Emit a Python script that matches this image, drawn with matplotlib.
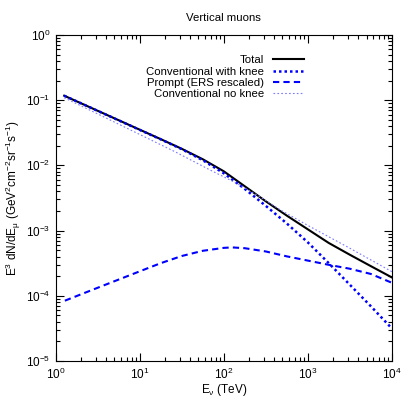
import matplotlib
matplotlib.use("Agg")
import matplotlib.pyplot as plt
import numpy as np

plt.rcParams['font.family'] = ['Liberation Sans', 'DejaVu Sans']
plt.rcParams['mathtext.default'] = 'regular'

# log10(E / TeV) and log10(E^3 dN/dE) values
total_logE = [0.102, 0.5, 1.0, 1.25, 1.5, 1.75, 2.0, 2.25, 2.5, 2.75, 3.0, 3.25, 3.5, 3.75, 4.0]
total_logY = [-0.931, -1.162, -1.452, -1.597, -1.745, -1.905, -2.09, -2.32, -2.55, -2.77, -2.98, -3.19, -3.37, -3.545, -3.718]

knee_logE = [0.102, 0.5, 1.0, 1.25, 1.5, 1.75, 2.0, 2.25, 2.5, 2.75, 3.0, 3.25, 3.5, 3.75, 4.0]
knee_logY = [-0.931, -1.163, -1.455, -1.60, -1.75, -1.92, -2.12, -2.36, -2.62, -2.89, -3.18, -3.50, -3.83, -4.16, -4.50]

prompt_logE = [0.11, 0.5, 1.0, 1.25, 1.5, 1.75, 2.0, 2.1, 2.25, 2.5, 2.75, 3.0, 3.25, 3.5, 3.75, 4.0]
prompt_logY = [-4.075, -3.877, -3.625, -3.50, -3.39, -3.31, -3.265, -3.258, -3.27, -3.32, -3.395, -3.46, -3.525, -3.585, -3.665, -3.80]

noknee_logE = [0.102, 0.5, 1.0, 1.42, 1.837, 2.155, 2.43, 2.67, 3.0, 3.5, 3.98, 4.0]
noknee_logY = [-0.962, -1.21, -1.525, -1.79, -2.07, -2.275, -2.48, -2.68, -2.92, -3.27, -3.615, -3.63]

labels = ["Total", "Conventional with knee", "Prompt (ERS rescaled)", "Conventional no knee"]

fig = plt.figure(figsize=(4.09, 4.09), dpi=100)
ax = fig.add_axes([0.136, 0.1174, 0.822, 0.797])

def p(lx, ly):
    return 10 ** np.array(lx), 10 ** np.array(ly)

x, y = p(total_logE, total_logY)
ax.plot(x, y, color='black', lw=1.5, label=labels[0])
x, y = p(knee_logE, knee_logY)
ax.plot(x, y, color='#0000ff', lw=1.8, ls=(0, (1, 1.2)), label=labels[1])
x, y = p(prompt_logE, prompt_logY)
ax.plot(x, y, color='#0000ff', lw=1.5, ls=(0, (3, 2)), label=labels[2])
x, y = p(noknee_logE, noknee_logY)
ax.plot(x, y, color='#7a7aff', lw=0.8, ls=(0, (1.5, 2)), label=labels[3])

ax.set_xscale('log')
ax.set_yscale('log')
ax.set_xlim(1, 1e4)
ax.set_ylim(1e-5, 1)

ax.tick_params(which='both', direction='in', top=True, right=True, labelsize=8.5, pad=4)
ax.tick_params(which='major', length=6, width=0.8)
ax.tick_params(which='minor', length=3, width=0.8)

ax.set_title('Vertical muons', fontsize=8.2, pad=10)
ax.set_xlabel('E$_{ν}$ (TeV)', fontsize=8.5, labelpad=0)
ax.set_ylabel('E$^{3}$ dN/dE$_{μ}$ (GeV$^{2}$cm$^{-2}$sr$^{-1}$s$^{-1}$)', fontsize=8.5, labelpad=2)

leg = ax.legend(loc='upper right', bbox_to_anchor=(0.755, 0.955), frameon=False, markerfirst=False,
                fontsize=8.2, handlelength=2.7, labelspacing=0.1, handletextpad=0.8, borderpad=0)

fig.savefig('out.png', dpi=100)
